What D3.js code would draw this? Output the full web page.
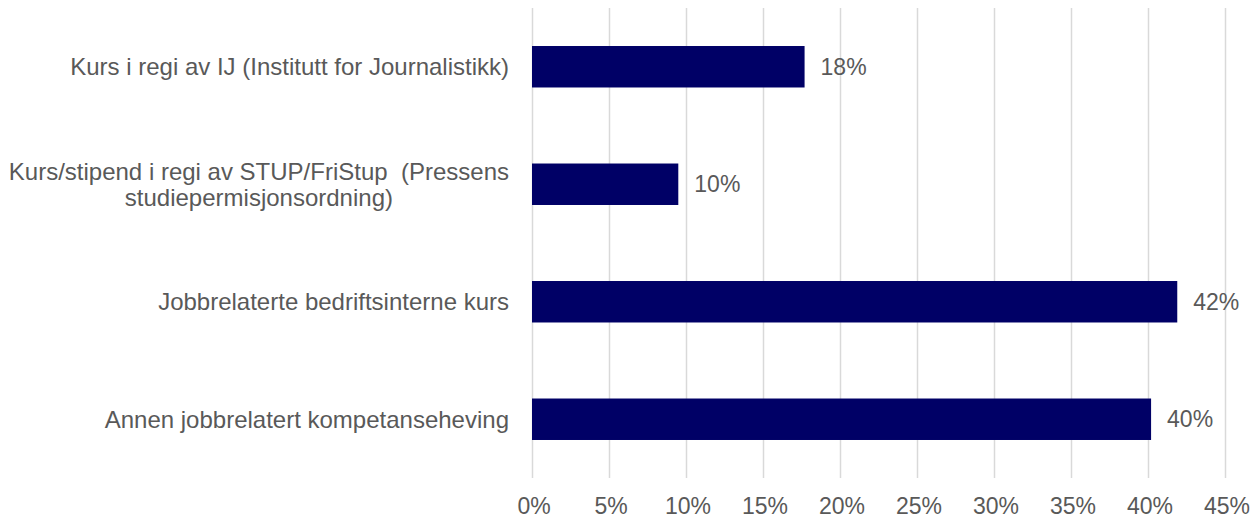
<!DOCTYPE html>
<html><head><meta charset="utf-8">
<script src="https://cdn.jsdelivr.net/npm/d3@7"></script>
<style>html,body{margin:0;padding:0;background:#fff;}svg{display:block;} text{white-space:pre;}</style>
</head><body>
<svg id="c" width="1260" height="517"></svg>
<script>
const categories = [
  ["Kurs i regi av IJ (Institutt for Journalistikk)"],
  ["Kurs/stipend i regi av STUP/FriStup  (Pressens", "studiepermisjonsordning)"],
  ["Jobbrelaterte bedriftsinterne kurs"],
  ["Annen jobbrelatert kompetanseheving"]
];
const values = [17.7, 9.5, 41.9, 40.2];
const valueLabels = ["18%", "10%", "42%", "40%"];
const tickValues = [0, 5, 10, 15, 20, 25, 30, 35, 40, 45];

const svg = d3.select("#c");
const font = "'Liberation Sans', Arial, sans-serif";
const txt = "#595959";
const x0 = 532, x1 = 1225, yTop = 8, yBot = 478;

const x = d3.scaleLinear().domain([0, 45]).range([x0, x1]);
const y = d3.scaleBand().domain(d3.range(categories.length)).range([yTop, yBot]).paddingInner(0.647).paddingOuter(0.3235);

// gridlines
svg.append("g").selectAll("line").data(tickValues).join("line")
  .attr("x1", d => Math.round(x(d)) + 0.5).attr("x2", d => Math.round(x(d)) + 0.5)
  .attr("y1", yTop).attr("y2", yBot)
  .attr("stroke", "#d9d9d9").attr("stroke-width", 1.5);

// bars
svg.append("g").selectAll("rect").data(values).join("rect")
  .attr("x", x(0)).attr("y", (d, i) => y(i))
  .attr("width", d => x(d) - x(0)).attr("height", y.bandwidth())
  .attr("fill", "#000066");

// value labels
svg.append("g").selectAll("text").data(values).join("text")
  .attr("x", d => x(d) + 16).attr("y", (d, i) => y(i) + y.bandwidth() / 2)
  .attr("dy", "0.35em")
  .attr("font-family", font).attr("font-size", 23).attr("fill", txt)
  .text((d, i) => valueLabels[i]);

// tick labels
svg.append("g").selectAll("text").data(tickValues).join("text")
  .attr("x", d => x(d) + 2).attr("y", 514)
  .attr("text-anchor", "middle")
  .attr("font-family", font).attr("font-size", 23).attr("fill", txt)
  .text(d => d + "%");

// category labels
const lineH = 26;
const catG = svg.append("g");
categories.forEach((lines, i) => {
  const cy = y(i) + y.bandwidth() / 2;
  const g = catG.append("g");
  const ts = lines.map((l, j) => g.append("text")
    .attr("y", cy + (j - (lines.length - 1) / 2) * lineH).attr("dy", "0.35em")
    .attr("text-anchor", "middle")
    .attr("font-family", font).attr("font-size", 24).attr("fill", txt)
    .text(l));
  const maxW = d3.max(ts, t => t.node().getComputedTextLength());
  ts.forEach(t => t.attr("x", 509 - maxW / 2));
});
</script>
</body></html>
